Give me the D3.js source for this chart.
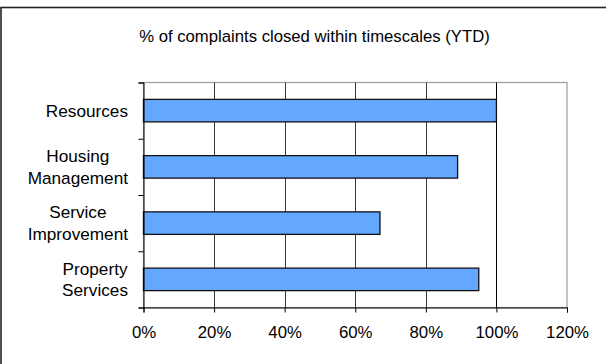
<!DOCTYPE html>
<html>
<head>
<meta charset="utf-8">
<script src="https://cdn.jsdelivr.net/npm/d3@7/dist/d3.min.js"></script>
<style>
  html, body { margin: 0; padding: 0; background: #fff; }
  svg { display: block; font-family: "Liberation Sans", Arial, sans-serif; }
</style>
</head>
<body>
<svg id="chart" width="606" height="364"></svg>
<script>
// Complaints closed within timescales, year to date, by service area
const categories = [
  ["Resources"],
  ["Housing", "Management"],
  ["Service", "Improvement"],
  ["Property", "Services"]
];
const values = [100, 89, 67, 95];
const xTicks = [0, 20, 40, 60, 80, 100, 120];
const title = "% of complaints closed within timescales (YTD)";

const W = 606, H = 364;
const plot = { left: 143.5, right: 567, top: 82.5, bottom: 307.5 };

const svg = d3.select("#chart");

// outer chart frame
svg.append("rect")
  .attr("x", 1).attr("y", 7.5)
  .attr("width", W + 10).attr("height", H + 10)
  .attr("fill", "#fff")
  .attr("stroke", "#222").attr("stroke-width", 1.6);

svg.append("text")
  .attr("x", 314.5).attr("y", 41.5)
  .attr("text-anchor", "middle")
  .attr("font-size", 16.7)
  .attr("fill", "#000")
  .text(title);

const x = d3.scaleLinear().domain([0, 120]).range([plot.left, plot.right]);
const y = d3.scaleBand()
  .domain(d3.range(categories.length))
  .range([plot.top, plot.bottom])
  .paddingInner(0.6).paddingOuter(0.3);

// plot area border (top and right)
svg.append("rect")
  .attr("x", plot.left).attr("y", plot.top)
  .attr("width", plot.right - plot.left).attr("height", plot.bottom - plot.top)
  .attr("fill", "none").attr("stroke", "#9a9a9a").attr("stroke-width", 1.2);

// vertical gridlines
svg.append("g")
  .selectAll("line")
  .data(xTicks.filter(t => t > 0 && t < 120))
  .join("line")
  .attr("x1", d => Math.round(x(d)) + 0.5).attr("x2", d => Math.round(x(d)) + 0.5)
  .attr("y1", plot.top).attr("y2", plot.bottom)
  .attr("stroke", d => d === 100 ? "#000" : "#3a3a3a").attr("stroke-width", 1);

// bars
svg.append("g")
  .selectAll("rect")
  .data(values)
  .join("rect")
  .attr("x", x(0))
  .attr("y", (d, i) => y(i))
  .attr("width", d => x(d) - x(0))
  .attr("height", y.bandwidth())
  .attr("fill", "#63a7ff")
  .attr("stroke", "#111").attr("stroke-width", 1.3);

// x axis
const xAxis = svg.append("g")
  .attr("transform", `translate(0,${plot.bottom})`)
  .call(d3.axisBottom(x).tickValues(xTicks).tickFormat(d => d + "%").tickSize(5).tickPadding(13.5));
xAxis.select(".domain").attr("stroke", "#000");
xAxis.selectAll(".tick line").attr("stroke", "#000");
xAxis.selectAll(".tick text").attr("font-size", 16.8).attr("fill", "#000")
  .attr("font-family", "Liberation Sans, Arial, sans-serif");

// y axis: ticks at category boundaries
const yEdges = d3.scaleLinear().domain([0, categories.length]).range([plot.top, plot.bottom]);
const yAxis = svg.append("g")
  .attr("transform", `translate(${plot.left},0)`)
  .call(d3.axisLeft(yEdges).ticks(categories.length).tickFormat("").tickSize(5).tickSizeOuter(5));
yAxis.select(".domain").attr("stroke", "#000");
yAxis.selectAll(".tick line").attr("stroke", "#000");

// category labels, each line centred within a right-aligned block
const labelRight = 128;
const lineGap = 21.3;
categories.forEach((lines, i) => {
  const cy = y(i) + y.bandwidth() / 2;
  const g = svg.append("text")
    .attr("font-size", 17.2).attr("fill", "#000")
    .attr("text-anchor", "middle");
  const tspans = lines.map((ln, j) => g.append("tspan")
    .attr("y", cy + (j - (lines.length - 1) / 2) * lineGap + 6)
    .text(ln));
  const widths = tspans.map(t => t.node().getComputedTextLength());
  const maxW = d3.max(widths);
  tspans.forEach(t => t.attr("x", labelRight - maxW / 2));
});
</script>
</body>
</html>
